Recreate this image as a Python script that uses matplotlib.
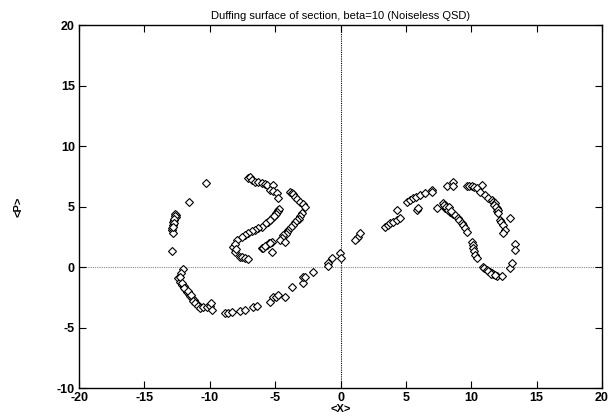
import matplotlib
matplotlib.use("Agg")
import matplotlib.pyplot as plt

plt.rcParams['font.family'] = ['Liberation Sans', 'DejaVu Sans']
plt.rcParams['axes.unicode_minus'] = False

# points: left lobe (outer arc), left lobe (inner), right lobe
left_outer_x = [-10.28, -11.56, -12.57, -12.6, -12.65, -12.73, -12.78, -12.83, -12.91, -12.85, -12.78, -12.91,
                -12.62, -12.7, -12.75, -12.8,
                -12.07, -12.2, -12.4, -12.3, -12.14, -12.0, -11.9, -11.76, -11.6, -11.5, -11.38, -11.2,
                -12.25, -12.1, -11.95, -11.7, -11.45, -11.3, -11.0,
                -11.12, -10.9, -10.74, -10.5, -10.2, -9.98, -9.85, -9.9, -8.83, -8.6, -8.32, -7.68, -7.3,
                -6.67, -6.41, -5.39, -5.14, -4.9, -4.75, -4.24, -3.73, -2.84, -2.84, -2.71, -2.08, -0.93,
                -0.67, -0.93, -0.04, 0.0]
left_outer_p = [6.97, 5.4, 4.3, 4.1, 4.4, 3.88, 3.7, 3.47, 3.06, 3.2, 2.78, 1.32,
                4.2, 4.0, 3.6, 3.3,
                -0.19, -0.5, -0.93, -1.2, -1.49, -1.6, -1.8, -2.04, -2.2, -2.4, -2.59, -2.7,
                -0.8, -1.35, -1.7, -1.95, -2.3, -2.8, -3.05,
                -3.0, -3.2, -3.41, -3.3, -3.3, -3.22, -3.55, -3.0, -3.83, -3.8, -3.69, -3.61, -3.55,
                -3.28, -3.25, -2.87, -2.45, -2.5, -2.31, -2.45, -1.63, -1.35, -0.85, -0.8, -0.39, 0.3,
                0.72, 0.08, 1.18, 0.72]

left_inner_x = [-7.05, -6.9, -6.8, -6.54, -6.3, -6.02, -5.8, -5.64, -5.14, -5.39, -5.2, -4.88, -4.75,
                -3.86, -3.7, -3.6, -3.48, -3.3, -3.1, -2.9, -2.71, -2.97, -3.1, -3.2, -3.35, -3.5, -3.61,
                -3.8, -3.99, -4.1, -4.2, -4.37, -4.5, -4.63, -4.24,
                -4.75, -4.8, -4.9, -5.01, -5.2, -5.3, -5.52, -5.7, -6.02, -6.3, -6.54, -6.8, -7.05, -7.3,
                -4.7, -4.85, -4.95, -5.1, -5.4,
                -7.55, -7.94, -8.2, -8.1, -8.07, -8.0, -7.68, -7.5, -7.3, -7.05,
                -6.02, -5.9, -5.64, -5.5, -5.26, -5.26, -5.8, -5.4]
left_inner_p = [7.33, 7.4, 7.2, 7.05, 7.0, 6.92, 6.85, 6.78, 6.78, 6.36, 6.3, 6.09, 5.68,
                6.22, 6.1, 6.0, 5.81, 5.6, 5.4, 5.2, 4.98, 4.44, 4.2, 4.0, 3.88, 3.7, 3.47,
                3.3, 3.06, 2.9, 2.75, 2.64, 2.4, 2.23, 2.09,
                4.71, 4.6, 4.45, 4.3, 4.1, 4.0, 3.74, 3.6, 3.33, 3.2, 3.06, 2.95, 2.78, 2.65,
                4.8, 4.55, 4.4, 4.2, 3.9,
                2.5, 2.23, 1.68, 1.9, 1.27, 1.5, 0.85, 0.8, 0.72, 0.64,
                1.54, 1.6, 1.82, 1.95, 2.09, 1.27, 1.7, 2.0]

right_x = [1.24, 1.35, 1.49, 1.1,
           3.4, 3.6, 3.78, 4.0, 4.3, 4.55, 4.3, 5.83, 5.95, 5.06, 5.3, 5.57, 5.8, 6.08, 6.46, 6.97, 7.0,
           8.12, 8.62, 8.62, 7.35,
           7.86, 7.99, 7.99, 8.1, 8.2, 8.37, 8.5, 8.6, 8.75, 9.0, 9.1, 9.27, 9.4, 9.52, 9.65,
           7.9, 8.05, 8.25, 8.3, 8.45,
           10.03, 10.1, 10.15, 10.2, 10.28, 10.41, 10.92, 11.0, 11.18, 11.4, 11.56, 11.7, 11.94, 12.32,
           11.3, 11.5, 11.8,
           12.96, 13.09,
           9.65, 9.8, 10.03, 10.2, 10.41, 10.8, 10.66, 11.05, 11.3, 11.56, 11.7, 11.81, 11.94, 12.0,
           11.75, 11.9, 12.05,
           12.07, 12.19, 12.3, 12.45, 12.58, 12.45, 12.96, 13.34, 13.34]
right_p = [2.37, 2.5, 2.78, 2.2,
           3.33, 3.5, 3.61, 3.7, 3.88, 4.02, 4.71, 4.71, 4.85, 5.4, 5.5, 5.68, 5.8, 5.95, 6.09, 6.36, 6.2,
           6.69, 7.05, 6.69, 4.85,
           5.26, 5.1, 4.85, 4.9, 4.8, 4.57, 4.5, 4.4, 4.3, 4.02, 3.9, 3.61, 3.45, 3.2, 2.92,
           5.15, 5.0, 4.7, 4.95, 4.65,
           2.09, 1.8, 1.54, 1.3, 0.99, 0.72, 0.02, -0.1, -0.25, -0.4, -0.52, -0.6, -0.74, -0.74,
           -0.35, -0.6, -0.7,
           -0.1, 0.36,
           6.69, 6.7, 6.69, 6.6, 6.5, 6.78, 6.22, 5.95, 5.7, 5.54, 5.4, 5.26, 4.85, 4.6,
           5.1, 4.95, 4.7,
           4.44, 3.88, 3.7, 3.47, 3.06, 2.78, 4.02, 1.9, 1.4]

xs = left_outer_x + left_inner_x + right_x
ps = left_outer_p + left_inner_p + right_p

fig = plt.figure(figsize=(6.11, 4.16), dpi=100)
ax = fig.add_axes([0.1293, 0.0673, 0.8560, 0.8726])

ax.axhline(0, color='#888888', lw=0.8, ls=(0, (1, 1)), zorder=1)
ax.axvline(0, color='black', lw=0.8, ls=(0, (1, 1)), zorder=1)

ax.plot(xs, ps, ls='none', marker='D', ms=4.2, mfc='white', mec='black', mew=0.8, zorder=3)

ax.set_xlim(-20, 20)
ax.set_ylim(-10, 20)
ax.set_xticks(range(-20, 21, 5))
ax.set_yticks(range(-10, 21, 5))
ax.tick_params(direction='in', top=True, right=True, length=5, width=0.8,
               labelsize=9, pad=3)
for lab in ax.get_xticklabels() + ax.get_yticklabels():
    lab.set_fontweight('bold')
for s in ax.spines.values():
    s.set_linewidth(1.0)

ax.set_title('Duffing surface of section, beta=10 (Noiseless QSD)', fontsize=8, pad=4)
ax.set_xlabel('<X>', fontsize=8, fontweight='bold', labelpad=0)
ax.set_ylabel('<P>', fontsize=8, fontweight='bold', labelpad=24)

fig.savefig('out.png', dpi=100)
